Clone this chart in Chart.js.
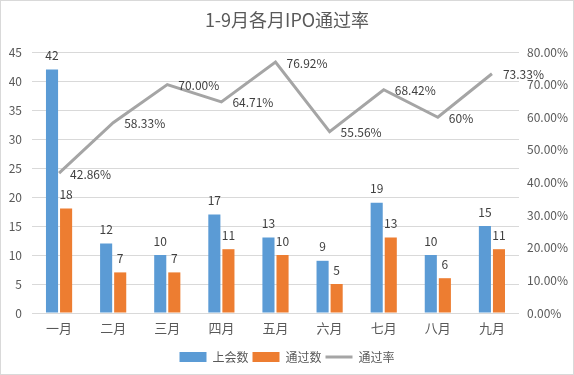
<!DOCTYPE html>
<html>
<head>
<meta charset="utf-8">
<script src="https://cdn.jsdelivr.net/npm/chart.js@4/dist/chart.umd.min.js"></script>
<style>
html,body{margin:0;padding:0;background:#fff;}
#wrap{width:574px;height:375px;position:relative;}
</style>
</head>
<body>
<div id="wrap"><canvas id="c" width="574" height="375"></canvas></div>
<script>
const categories = ['一月','二月','三月','四月','五月','六月','七月','八月','九月'];
const meetingCount = [42, 12, 10, 17, 13, 9, 19, 10, 15];
const passCount = [18, 7, 7, 11, 10, 5, 13, 6, 11];
const passRate = [42.86, 58.33, 70.00, 64.71, 76.92, 55.56, 68.42, 60, 73.33];
const passRateLabels = ['42.86%','58.33%','70.00%','64.71%','76.92%','55.56%','68.42%','60%','73.33%'];
const seriesNames = ['上会数','通过数','通过率'];
const titleText = '1-9月各月IPO通过率';

const FONT = '"Noto Sans CJK SC", "Noto Sans", sans-serif';
const TXT = '#595959';

const frame = {
  id: 'frame',
  beforeDraw(chart) {
    const ctx = chart.ctx;
    ctx.save();
    ctx.fillStyle = '#fff';
    ctx.fillRect(0, 0, chart.width, chart.height);
    ctx.strokeStyle = '#D9D9D9';
    ctx.lineWidth = 1;
    ctx.strokeRect(0.5, 0.5, chart.width - 1, chart.height - 1);
    ctx.restore();
  }
};

const valueLabels = {
  id: 'valueLabels',
  afterDatasetsDraw(chart) {
    const ctx = chart.ctx;
    ctx.save();
    ctx.font = '12px ' + FONT;
    ctx.fillStyle = '#404040';
    [0, 1].forEach(di => {
      const meta = chart.getDatasetMeta(di);
      meta.data.forEach((el, i) => {
        ctx.textAlign = 'center';
        ctx.textBaseline = 'middle';
        ctx.fillText(String(chart.data.datasets[di].data[i]), el.x, el.y - 14);
      });
    });
    const lm = chart.getDatasetMeta(2);
    lm.data.forEach((el, i) => {
      ctx.textAlign = 'left';
      ctx.textBaseline = 'middle';
      ctx.fillText(passRateLabels[i], el.x + 11, el.y + 1);
    });
    ctx.restore();
  }
};

new Chart(document.getElementById('c'), {
  data: {
    labels: categories,
    datasets: [
      {
        type: 'bar', label: seriesNames[0], data: meetingCount,
        backgroundColor: '#5B9BD5', borderWidth: 0, yAxisID: 'y',
        categoryPercentage: 0.52, barPercentage: 0.86, order: 1, pointStyle: 'rect'
      },
      {
        type: 'bar', label: seriesNames[1], data: passCount,
        backgroundColor: '#ED7D31', borderWidth: 0, yAxisID: 'y',
        categoryPercentage: 0.52, barPercentage: 0.86, order: 1, pointStyle: 'rect'
      },
      {
        type: 'line', label: seriesNames[2], data: passRate,
        borderColor: '#A5A5A5', backgroundColor: '#A5A5A5', borderWidth: 3,
        pointRadius: 0, pointStyle: 'line', tension: 0, yAxisID: 'y1', order: 0
      }
    ]
  },
  options: {
    responsive: false,
    animation: false,
    layout: { padding: { left: 0, right: 0, top: 0, bottom: 2 } },
    plugins: {
      title: {
        display: true, text: titleText, color: TXT,
        font: { family: FONT, size: 18, weight: 'normal', lineHeight: 1.2 },
        padding: { top: 9, bottom: 21.4 }
      },
      legend: {
        position: 'bottom',
        labels: {
          usePointStyle: true, pointStyleWidth: 27, boxHeight: 10,
          padding: 4, color: TXT,
          font: { family: FONT, size: 12 },
          sort: (a, b) => a.datasetIndex - b.datasetIndex
        }
      },
      tooltip: { enabled: false }
    },
    scales: {
      x: {
        grid: { display: false, drawTicks: false },
        border: { display: false },
        ticks: { color: TXT, font: { family: FONT, size: 13 }, padding: 7 },
        afterFit(s) { s.height = 34; }
      },
      y: {
        position: 'left', min: 0, max: 45,
        ticks: { stepSize: 5, color: TXT, font: { family: FONT, size: 12 }, padding: 10 },
        grid: { color: '#D9D9D9', drawTicks: false },
        border: { display: false },
        afterFit(s) { s.width = 32; }
      },
      y1: {
        position: 'right', min: 0, max: 80,
        ticks: { stepSize: 10, color: TXT, font: { family: FONT, size: 12 }, padding: 8,
          callback: v => v.toFixed(2) + '%' },
        grid: { display: false, drawTicks: false },
        border: { display: false },
        afterFit(s) { s.width = 55; }
      }
    }
  },
  plugins: [frame, valueLabels]
});
</script>
</body>
</html>
